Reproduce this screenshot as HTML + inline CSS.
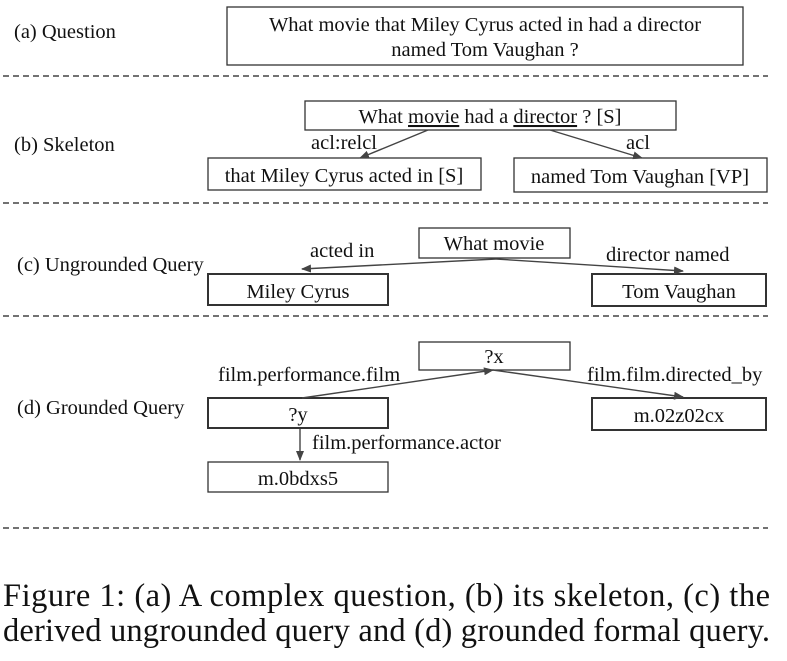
<!DOCTYPE html>
<html><head><style>
body{margin:0;background:#fff;}
svg text{font-family:"Liberation Serif",serif;fill:#111;}
</style></head><body>
<svg width="787" height="656" viewBox="0 0 787 656" xmlns="http://www.w3.org/2000/svg">
<defs><marker id="a" markerWidth="10" markerHeight="8" refX="9" refY="4" orient="auto" markerUnits="userSpaceOnUse"><path d="M0,0 L10,4 L0,8z" fill="#444"/></marker></defs>
<g fill="none" stroke="#333" stroke-width="1.3">
<rect x="227" y="7" width="516" height="58"/>
<rect x="305" y="101" width="371" height="29"/>
<rect x="208" y="158" width="273" height="32"/>
<rect x="514" y="158" width="253" height="34"/>
<rect x="419" y="228" width="151" height="30"/>
<rect x="208" y="274" width="180" height="31" stroke-width="2"/>
<rect x="592" y="274" width="174" height="32" stroke-width="2"/>
<rect x="419" y="342" width="151" height="28"/>
<rect x="208" y="398" width="180" height="30" stroke-width="2"/>
<rect x="592" y="398" width="174" height="32" stroke-width="2"/>
<rect x="208" y="462" width="180" height="30"/>
</g>
<g stroke="#444" stroke-width="1.4" stroke-dasharray="6,4">
<line x1="3" y1="76" x2="768" y2="76"/>
<line x1="3" y1="203" x2="768" y2="203"/>
<line x1="3" y1="316" x2="768" y2="316"/>
<line x1="3" y1="528" x2="768" y2="528"/>
</g>
<g stroke="#444" stroke-width="1.4" marker-end="url(#a)">
<line x1="428" y1="130" x2="360" y2="158"/>
<line x1="550" y1="130" x2="642" y2="158"/>
<line x1="496" y1="259" x2="302" y2="269"/>
<line x1="496" y1="259" x2="683" y2="271"/>
<line x1="302" y1="398" x2="493" y2="370"/>
<line x1="493" y1="370" x2="683" y2="397"/>
<line x1="300" y1="429" x2="300" y2="460"/>
</g>
<g font-size="20.5">
<text x="14" y="38">(a) Question</text>
<text x="485" y="31" text-anchor="middle">What movie that Miley Cyrus acted in had a director</text>
<text x="485" y="56" text-anchor="middle">named Tom Vaughan ?</text>
<text x="14" y="151">(b) Skeleton</text>
<text x="490" y="123" text-anchor="middle">What <tspan text-decoration="underline">movie</tspan> had a <tspan text-decoration="underline">director</tspan> ? [S]</text>
<text x="311" y="149">acl:relcl</text>
<text x="626" y="149">acl</text>
<text x="344" y="182" text-anchor="middle">that Miley Cyrus acted in [S]</text>
<text x="640" y="183" text-anchor="middle">named Tom Vaughan [VP]</text>
<text x="17" y="271">(c) Ungrounded Query</text>
<text x="310" y="257">acted in</text>
<text x="494" y="250" text-anchor="middle">What movie</text>
<text x="606" y="261">director named</text>
<text x="298" y="298" text-anchor="middle">Miley Cyrus</text>
<text x="679" y="298" text-anchor="middle">Tom Vaughan</text>
<text x="494" y="363" text-anchor="middle">?x</text>
<text x="218" y="381">film.performance.film</text>
<text x="587" y="381">film.film.directed_by</text>
<text x="17" y="414">(d) Grounded Query</text>
<text x="298" y="421" text-anchor="middle">?y</text>
<text x="679" y="422" text-anchor="middle">m.02z02cx</text>
<text x="312" y="449">film.performance.actor</text>
<text x="298" y="485" text-anchor="middle">m.0bdxs5</text>
</g>
<g font-size="32.5">
<text x="3" y="606" textLength="767" lengthAdjust="spacing">Figure 1: (a) A complex question, (b) its skeleton, (c) the</text>
<text x="3" y="641" textLength="767" lengthAdjust="spacing">derived ungrounded query and (d) grounded formal query.</text>
</g>
</svg>
</body></html>
